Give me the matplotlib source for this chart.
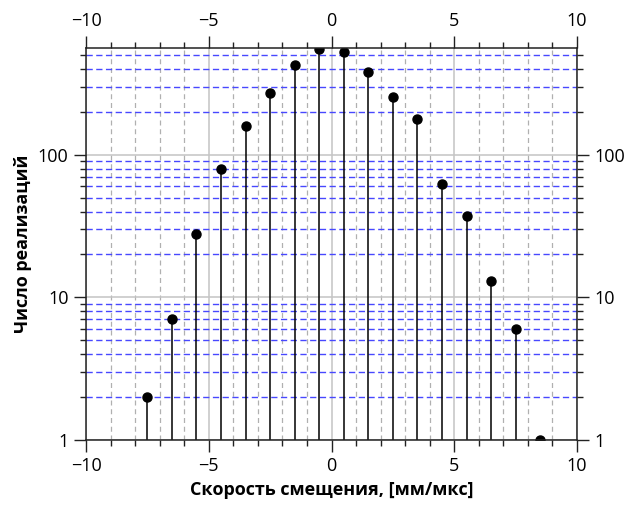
import matplotlib
matplotlib.use("Agg")
import matplotlib.pyplot as plt
from matplotlib.ticker import MultipleLocator, LogLocator, NullFormatter, FixedLocator, FixedFormatter

plt.rcParams['font.family'] = ['Open Sans', 'DejaVu Sans']

# data
velocity = [-7.5, -6.5, -5.5, -4.5, -3.5, -2.5, -1.5, -0.5, 0.5, 1.5, 2.5, 3.5, 4.5, 5.5, 6.5, 7.5, 8.5]
counts = [2, 7, 28, 80, 158, 269, 426, 555, 526, 380, 254, 177, 62, 37, 13, 6, 1]
xticks = [-10, -5, 0, 5, 10]
yticks = [1, 10, 100]
ytick_labels = ["1", "10", "100"]
xlabel = "Скорость смещения, [мм/мкс]"
ylabel = "Число реализаций"

fig = plt.figure(figsize=(6.29, 5.12), dpi=100)
ax = fig.add_axes([86/629, 1-440/512, (577-86)/629, (440-47.5)/512])

ax.set_yscale('log')
ax.set_xlim(-10, 10)
ax.set_ylim(1, 565)

ax.xaxis.set_major_locator(FixedLocator(xticks))
ax.xaxis.set_minor_locator(MultipleLocator(1))
ax.yaxis.set_major_locator(FixedLocator(yticks))
ax.yaxis.set_major_formatter(FixedFormatter(ytick_labels))
ax.yaxis.set_minor_locator(LogLocator(base=10, subs=range(2, 10)))
ax.yaxis.set_minor_formatter(NullFormatter())

ax.grid(True, which='major', axis='both', color='#c4c4c4', lw=1.1, ls='-')
ax.grid(True, which='minor', axis='x', color='#b0b0b0', lw=0.9, ls=(0, (4, 3)))
ax.grid(True, which='minor', axis='y', color='#4848ff', lw=1.0, ls=(0, (4.5, 2.5)))
ax.set_axisbelow(True)

ml, sl, bl = ax.stem(velocity, counts, bottom=1, linefmt='k-', markerfmt='ko', basefmt=' ')
plt.setp(sl, lw=1.1, color='black')
plt.setp(ml, markersize=6.5, color='black')

for s in ax.spines.values():
    s.set_linewidth(1.1)
    s.set_color('#222222')

ax.tick_params(which='both', direction='out', top=True, right=True,
               labeltop=True, labelright=True, labelsize=13, color='#222222', width=1.0)
ax.tick_params(which='major', length=8.5, pad=4)
ax.tick_params(which='minor', length=4.5)

ax.set_xlabel(xlabel, fontsize=13, fontweight='bold', labelpad=4)
ax.set_ylabel(ylabel, fontsize=13, fontweight='bold', labelpad=4)

fig.savefig("out.png", dpi=100)
